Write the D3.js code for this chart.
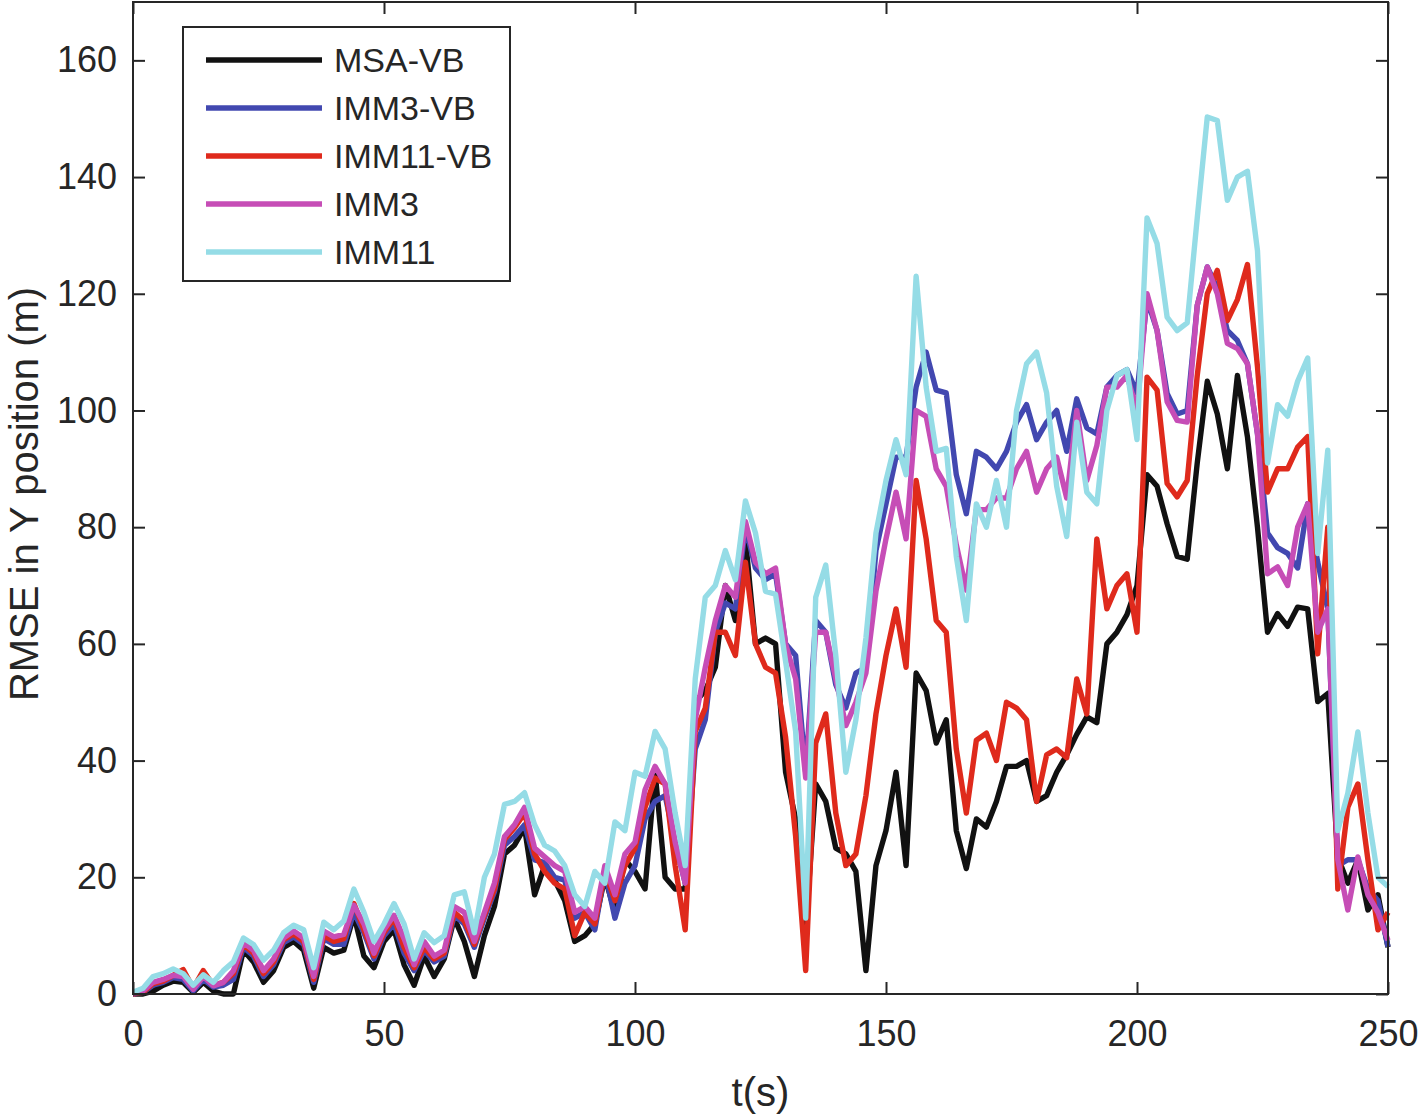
<!DOCTYPE html>
<html>
<head>
<meta charset="utf-8">
<script src="https://cdn.jsdelivr.net/npm/d3@7"></script>
<style>
  body { margin: 0; background: #fff; }
  text { font-family: "Liberation Sans", Arial, sans-serif; fill: #262626; }
</style>
</head>
<body>
<div id="chart"></div>
<script>
// time grid (s), one sample every 2 s
var tSec = d3.range(0, 251, 2);

// RMSE in Y position (m)
var msaVB = [0, 0, 0.5, 1.5, 2.2, 2, 0.3, 2, 0.5, 0, 0, 7.5, 5.5, 2, 4, 8, 9, 7.5, 1, 8,
  7, 7.5, 13.5, 6.5, 4.5, 9, 11, 5, 1.5, 6.5, 3, 6, 13, 9, 3, 10, 15, 24, 25.5, 28.5,
  17, 22, 19.5, 16, 9, 10, 12, 20, 14, 23, 21, 18, 38, 20, 18, 18, 50, 52, 56, 70,
  64, 78, 60, 61, 60, 38, 30, 11, 36, 33, 25, 24, 21, 4, 22, 28, 38, 22, 55, 52,
  43, 47, 28, 21.5, 30, 28.6, 33, 39, 39, 40, 33, 34, 38, 41, 44.5, 47.5, 46.5, 60, 62, 65,
  70, 89, 87, 80.6, 75, 74.5, 91, 105, 99.4, 90, 106, 95.5, 80, 62, 65.2, 63, 66.3, 66, 50.1, 51.5,
  23.5, 19, 23, 14.4, 17, 8];

var imm3VB = [0, 0.3, 1.5, 2, 2.8, 2.5, 0.5, 2.5, 1.2, 1.5, 2.5, 8, 6.5, 3, 5, 8.8, 9.8, 8.5, 2, 9.5,
  8.5, 8.5, 14, 10.5, 6, 10, 12, 7, 4, 7.5, 5.5, 6.5, 13.5, 12, 8, 13, 17.5, 25.5, 27, 29,
  23, 22.5, 20, 19.5, 13, 14, 11, 21, 13, 19, 22, 30, 33, 34, 26, 19, 42, 47, 62, 67,
  66, 80, 73, 71, 72, 60, 58, 38, 64, 62, 53, 49, 55, 56, 76, 84, 92, 92, 104, 110,
  103.5, 103, 89, 82.3, 93, 92, 90, 93, 98, 101, 95, 98, 100, 93, 102, 97, 96, 104, 106, 107,
  103, 119, 113.7, 102.9, 99.4, 100, 118, 124.6, 121, 113.7, 112, 108, 96, 79, 76.5, 75.5, 73, 84, 74, 66,
  22, 23, 23, 18, 16, 8.1];

var imm11VB = [0, 0.3, 1.8, 2.2, 3.2, 4.2, 1, 4, 1.5, 2, 3.5, 8.5, 7, 3.5, 5.5, 9.3, 10.3, 9, 2.5, 10,
  9, 9.5, 15.5, 11, 6.5, 10.5, 13, 8, 4.5, 8, 6, 7, 14, 12.5, 8.5, 13.5, 18, 26.5, 28.5, 31,
  24, 21, 19, 18, 10, 14, 12, 21, 16, 22, 25, 32, 37, 36, 22, 11, 45, 49, 62, 62,
  58, 74, 60, 56, 55, 44, 27, 4, 43, 48, 31, 22, 24, 34, 48, 58, 66, 56, 88, 78,
  64, 62, 42, 31, 43.5, 44.7, 40, 50, 49, 47, 33, 41, 42, 40.5, 54, 48, 78, 66, 70, 72,
  62, 105.7, 103.5, 87.5, 85.2, 88, 106, 120, 124, 115.4, 119, 125, 107.5, 86, 90, 90, 93.7, 95.5, 58.3, 80,
  18, 32, 36, 23, 11, 14];

var imm3 = [0, 0.5, 2, 2.5, 3.2, 3, 0.8, 3, 1.4, 2, 4, 8.8, 7.5, 4, 6, 9.6, 10.8, 9.6, 3, 10.8,
  9.8, 10.2, 15.2, 12, 7, 11, 13.5, 9.5, 5, 9, 6.5, 7.5, 15, 14, 9, 14, 19, 27, 29, 32,
  25, 23.5, 22, 21, 14, 15, 13, 22, 17, 24, 26, 35, 39, 36, 26, 19, 47, 56, 64, 70,
  68, 81, 74, 72, 73, 60, 54, 37, 62, 62, 54, 46, 50, 55, 69, 78, 86, 78, 100, 99,
  90, 87, 77, 69.2, 83, 83, 85, 85, 90, 93, 86, 90, 92, 85, 100, 88, 94, 104, 104, 106,
  100, 120, 113.7, 101.5, 98.3, 98, 118, 124.6, 120, 111.5, 110.6, 108, 96, 72, 73.2, 70, 80, 84, 62, 66,
  23, 14.4, 23.5, 17, 14, 9.2];

var imm11 = [0.3, 1, 3, 3.5, 4.3, 3.5, 1.5, 3.3, 2, 4, 5.5, 9.6, 8.5, 5.8, 7.5, 10.5, 11.8, 11, 4.5, 12.3,
  11, 12.5, 18, 14, 9, 12, 15.5, 12, 6, 10.5, 8.8, 10, 17, 17.5, 10.5, 20, 24, 32.5, 33, 34.5,
  29, 25.5, 24.5, 22, 17, 15, 21, 19, 29.5, 28, 38, 37.3, 45, 42, 31, 22, 54, 68, 70, 76,
  71, 84.5, 79, 69, 68.5, 57, 45, 13, 68, 73.5, 58, 38, 47, 61, 79, 88, 95, 89, 123, 104,
  93, 93.5, 75, 64, 84, 80, 88, 80, 100, 108, 110, 103, 87, 78.4, 98, 86, 84, 100, 106, 107,
  95, 133, 128.6, 116, 113.7, 115, 133, 150.3, 149.7, 136, 140, 141, 127.4, 91, 101, 99, 105, 109, 75.5, 93.2,
  28, 34.4, 44.9, 31, 20, 18.4];

var seriesNames = ["MSA-VB", "IMM3-VB", "IMM11-VB", "IMM3", "IMM11"];
var seriesValues = [msaVB, imm3VB, imm11VB, imm3, imm11];
var seriesColors = ["#111111", "#4248b0", "#df2a1c", "#c64db6", "#95dce6"];

var xTicks = [0, 50, 100, 150, 200, 250];
var yTicks = [0, 20, 40, 60, 80, 100, 120, 140, 160];

var width = 1418, height = 1116;
var margin = { left: 133, right: 30, top: 2, bottom: 122 };
var lineW = 5.4;

var svg = d3.select("#chart")
    .append("svg")
    .attr("width", width)
    .attr("height", height);

var x = d3.scaleLinear().domain([0, 250]).range([margin.left, width - margin.right]);
var y = d3.scaleLinear().domain([0, 170]).range([height - margin.bottom, margin.top]);

// 데이터 선
var line = d3.line()
    .x(function (d) { return x(d[0]); })
    .y(function (d) { return y(d[1]); });

var plot = svg.append("g");
seriesValues.forEach(function (vals, i) {
    var pts = tSec.map(function (t, k) { return [t, vals[k]]; });
    plot.append("path")
        .datum(pts)
        .attr("fill", "none")
        .attr("stroke", seriesColors[i])
        .attr("stroke-width", lineW)
        .attr("stroke-linejoin", "round")
        .attr("d", line);
});

// 축 (inward ticks, box)
var tickLen = 12;
var axisColor = "#262626";

svg.append("g")
    .attr("transform", "translate(0," + y(0) + ")")
    .call(d3.axisBottom(x).tickValues(xTicks).tickSizeInner(-tickLen).tickSizeOuter(0).tickPadding(tickLen + 14))
    .call(function (g) {
        g.select(".domain").remove();
        g.selectAll("line").attr("stroke", axisColor).attr("stroke-width", 2);
        g.selectAll("text").attr("font-size", 36).attr("fill", axisColor)
            .attr("font-family", "Liberation Sans, Arial, sans-serif");
    });

svg.append("g")
    .attr("transform", "translate(" + x(0) + ",0)")
    .call(d3.axisLeft(y).tickValues(yTicks).tickSizeInner(-tickLen).tickSizeOuter(0).tickPadding(tickLen + 4))
    .call(function (g) {
        g.select(".domain").remove();
        g.selectAll("line").attr("stroke", axisColor).attr("stroke-width", 2);
        g.selectAll("text").attr("font-size", 36).attr("fill", axisColor)
            .attr("font-family", "Liberation Sans, Arial, sans-serif");
    });

svg.append("g")
    .attr("transform", "translate(" + x(250) + ",0)")
    .call(d3.axisRight(y).tickValues(yTicks).tickSizeInner(-tickLen).tickSizeOuter(0).tickFormat(""))
    .call(function (g) {
        g.select(".domain").remove();
        g.selectAll("line").attr("stroke", axisColor).attr("stroke-width", 2);
    });

svg.append("g")
    .attr("transform", "translate(0," + y(170) + ")")
    .call(d3.axisTop(x).tickValues(xTicks).tickSizeInner(-tickLen).tickSizeOuter(0).tickFormat(""))
    .call(function (g) {
        g.select(".domain").remove();
        g.selectAll("line").attr("stroke", axisColor).attr("stroke-width", 2);
    });

svg.append("rect")
    .attr("x", x(0))
    .attr("y", y(170))
    .attr("width", x(250) - x(0))
    .attr("height", y(0) - y(170))
    .attr("fill", "none")
    .attr("stroke", axisColor)
    .attr("stroke-width", 2);

// 축 제목
svg.append("text")
    .attr("x", (x(0) + x(250)) / 2)
    .attr("y", 1106)
    .attr("text-anchor", "middle")
    .attr("font-size", 40)
    .text("t(s)");

svg.append("text")
    .attr("transform", "translate(38," + 494 + ") rotate(-90)")
    .attr("text-anchor", "middle")
    .attr("font-size", 40)
    .text("RMSE in Y position (m)");

// 범례
var legend = svg.append("g");
legend.append("rect")
    .attr("x", 183).attr("y", 27)
    .attr("width", 327).attr("height", 254)
    .attr("fill", "#fff")
    .attr("stroke", axisColor)
    .attr("stroke-width", 2);

seriesNames.forEach(function (name, i) {
    var cy = 60 + i * 48;
    legend.append("line")
        .attr("x1", 206).attr("x2", 322)
        .attr("y1", cy).attr("y2", cy)
        .attr("stroke", seriesColors[i])
        .attr("stroke-width", lineW);
    legend.append("text")
        .attr("x", 334)
        .attr("y", cy + 12)
        .attr("font-size", 34)
        .attr("fill", "#000")
        .text(name);
});
</script>
</body>
</html>
